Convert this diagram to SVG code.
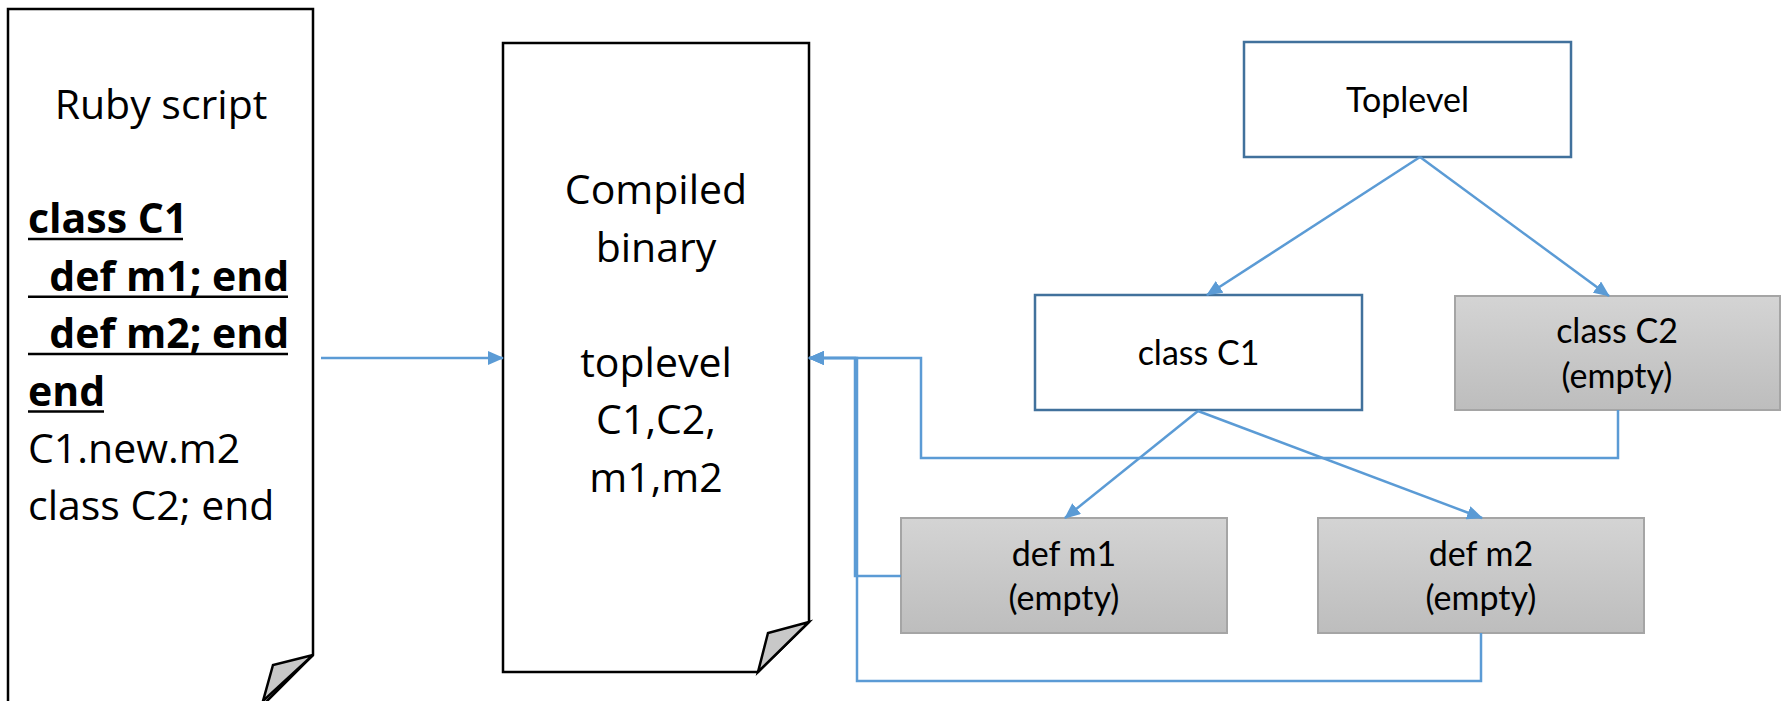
<svg xmlns="http://www.w3.org/2000/svg" width="1781" height="701" viewBox="0 0 1781 701">
<style>
.doc{fill:#fff;stroke:#000;stroke-width:2.5;stroke-linejoin:miter}
.fold{fill:#C8C8C8;stroke:#000;stroke-width:2.5;stroke-linejoin:miter}
.dt{font-family:"Open Sans","Noto Sans",sans-serif;font-size:41px;fill:#000}
.b{font-weight:bold}
.ul{stroke:#000;stroke-width:2.5}
.box{fill:#fff;stroke:#41719C;stroke-width:2.5}
.gbox{fill:url(#gg);stroke:#A5A5A5;stroke-width:2}
.bt{font-family:Lato,"Liberation Sans",sans-serif;font-size:34px;fill:#000;text-anchor:middle}
.cn{fill:none;stroke:#5B9BD5;stroke-width:2.5}
.ar{marker-end:url(#ah)}
</style>
<defs>
<linearGradient id="gg" x1="0" y1="0" x2="0" y2="1">
<stop offset="0" stop-color="#D4D4D4"/>
<stop offset="1" stop-color="#BDBDBD"/>
</linearGradient>
<marker id="ah" markerUnits="userSpaceOnUse" markerWidth="16" markerHeight="14" viewBox="0 0 16 14" refX="15" refY="7" orient="auto">
<path d="M0,0 L16,7 L0,14 Z" fill="#5B9BD5"/>
</marker>
</defs>
<rect width="1781" height="701" fill="#fff"/>
<g id="ruby-script">
<path class="doc" d="M8,9 H313 V655 L263,705 H8 Z"/>
<path class="fold" d="M313,655 L273,665 L263,701 Z"/>
<text class="dt" x="161" y="118.5" text-anchor="middle">Ruby script</text>
<text class="dt b" x="28" y="233" xml:space="preserve">class C1</text>
<text class="dt b" x="28" y="290.7" xml:space="preserve">  def m1; end</text>
<text class="dt b" x="28" y="348" xml:space="preserve">  def m2; end</text>
<text class="dt b" x="28" y="405.5" xml:space="preserve">end</text>
<line class="ul" x1="28" y1="239" x2="183" y2="239"/>
<line class="ul" x1="28" y1="296.7" x2="288" y2="296.7"/>
<line class="ul" x1="28" y1="354" x2="288" y2="354"/>
<line class="ul" x1="28" y1="411.5" x2="104" y2="411.5"/>
<text class="dt" x="28" y="463">C1.new.m2</text>
<text class="dt" x="28" y="520">class C2; end</text>
</g>
<g id="compiled-binary">
<path class="doc" d="M503,43 H809 V622 L758,672 H503 Z"/>
<path class="fold" d="M809,622 L768,633 L758,672 Z"/>
<g class="dt" text-anchor="middle">
<text x="656" y="204">Compiled</text>
<text x="656" y="261.5">binary</text>
<text x="656" y="376.5">toplevel</text>
<text x="656" y="434">C1,C2,</text>
<text x="656" y="491.5">m1,m2</text>
</g>
</g>
<g id="toplevel">
<rect class="box" x="1244" y="42" width="327" height="115"/>
<text class="bt" x="1407.5" y="112">Toplevel</text>
</g>
<g id="class-c1">
<rect class="box" x="1035" y="295" width="327" height="115"/>
<text class="bt" x="1198.5" y="365">class C1</text>
</g>
<g id="class-c2">
<rect class="gbox" x="1455" y="296" width="325" height="114"/>
<text class="bt" x="1617" y="343">class C2</text>
<text class="bt" x="1617" y="388">(empty)</text>
</g>
<g id="def-m1">
<rect class="gbox" x="901" y="518" width="326" height="115"/>
<text class="bt" x="1064" y="566">def m1</text>
<text class="bt" x="1064" y="610">(empty)</text>
</g>
<g id="def-m2">
<rect class="gbox" x="1318" y="518" width="326" height="115"/>
<text class="bt" x="1481" y="566">def m2</text>
<text class="bt" x="1481" y="610">(empty)</text>
</g>
<g id="connectors">
<path class="cn ar" d="M321,358 H503"/>
<path class="cn ar" d="M1420,157 L1207,295"/>
<path class="cn ar" d="M1420,157 L1609,296"/>
<path class="cn ar" d="M1198,411 L1065,518"/>
<path class="cn ar" d="M1198,411 L1482,518"/>
<path class="cn ar" d="M1618,410 V458 H921 V358 H809"/>
<path class="cn ar" d="M901,576 H855 V358 H809"/>
<path class="cn ar" d="M1481,633 V681 H857 V358 H809"/>
</g>
</svg>
